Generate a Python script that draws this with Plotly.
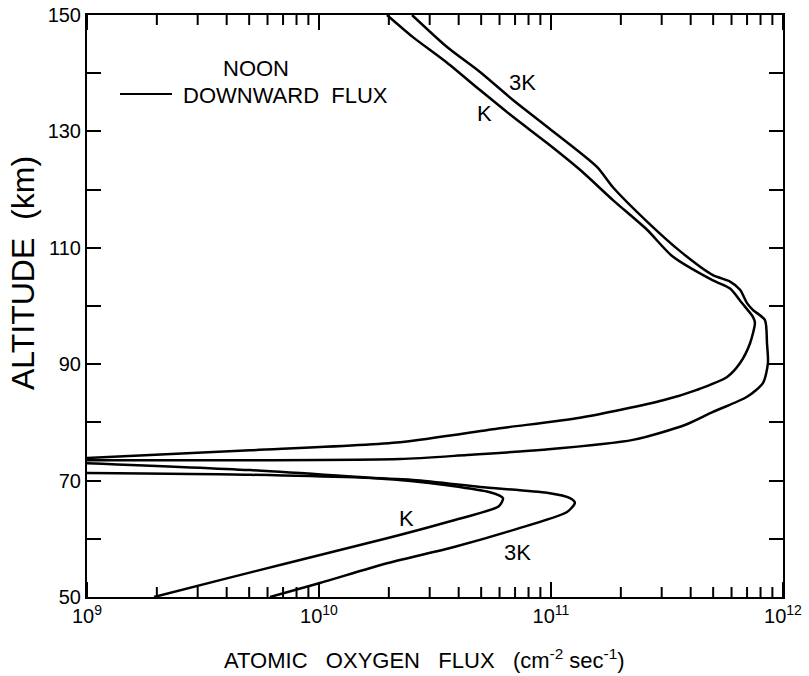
import math
import plotly.graph_objects as go

# ---- data: log10(flux [cm^-2 s^-1]) and altitude [km] ----
k_upper_logflux = [10.293, 10.405, 10.552, 10.694, 10.836, 10.983, 11.125, 11.267, 11.414,
                   11.522, 11.698, 11.772, 11.823, 11.871, 11.879, 11.858, 11.815, 11.759,
                   11.629, 11.483, 11.125, 10.780, 10.349, 9.703, 9.0]
k_upper_alt = [150.0, 146.2, 141.8, 137.1, 132.5, 128.0, 123.4, 118.2, 113.1,
               108.6, 104.4, 103.0, 100.5, 98.1, 97.1, 93.6, 90.2, 87.8,
               85.6, 83.8, 80.8, 79.0, 76.6, 75.2, 73.9]

k_lower_logflux = [9.0, 9.703, 10.405, 10.552, 10.737, 10.793, 10.775, 10.582,
                   10.293, 9.862, 9.573, 9.289]
k_lower_alt = [73.0, 71.8, 69.9, 69.2, 68.0, 67.0, 65.6, 63.2,
               60.1, 55.8, 52.9, 50.0]

k3_upper_logflux = [10.401, 10.552, 10.694, 10.836, 10.983, 11.198, 11.267, 11.414, 11.560,
                    11.698, 11.772, 11.815, 11.845, 11.871, 11.922, 11.931, 11.935, 11.914,
                    11.845, 11.698, 11.580, 11.353, 10.966, 10.638, 10.349, 9.703, 9.0]
k3_upper_alt = [150.0, 144.5, 140.2, 135.4, 130.8, 123.9, 120.4, 114.5, 109.3,
                105.3, 104.2, 102.8, 100.5, 99.3, 97.6, 93.6, 90.2, 86.8,
                84.4, 81.8, 79.6, 77.0, 75.3, 74.4, 73.7, 73.5, 73.5]

k3_lower_logflux = [9.0, 9.703, 10.405, 10.694, 10.983, 11.082, 11.103, 11.069, 10.836,
                    10.582, 10.293, 10.004, 9.789]
k3_lower_alt = [71.3, 71.0, 70.1, 68.9, 67.9, 67.0, 66.2, 64.6, 61.5,
                58.6, 55.8, 52.4, 50.0]

# x axis is drawn on log10(flux): decades at 9..12, minor ticks at log10(2..9 x 10^n)
x_tickvals = [9, 10, 11, 12]
x_ticktext = ["10<sup>9</sup>", "10<sup>10</sup>", "10<sup>11</sup>", "10<sup>12</sup>"]
x_minor_tickvals = [e + math.log10(m) for e in (9, 10, 11) for m in range(2, 10)]
y_tickvals = [50, 70, 90, 110, 130, 150]
Y_MIN, Y_MAX = 50, 150

FONT = "Liberation Sans, Arial, sans-serif"

W, H = 809, 676
L, R, T, B = 87, 26, 15, 79
pw, ph = W - L - R, H - T - B

fig = go.Figure()
for xs, ys in [(k_upper_logflux, k_upper_alt), (k_lower_logflux, k_lower_alt),
               (k3_upper_logflux, k3_upper_alt), (k3_lower_logflux, k3_lower_alt)]:
    fig.add_trace(go.Scatter(x=xs, y=ys, mode="lines",
                             line=dict(color="black", width=2.5, shape="spline", smoothing=0.7),
                             showlegend=False, hoverinfo="skip"))

# x tick marks on the bottom and top frame (inside), as a line trace on the axes' scales
km_per_px = (Y_MAX - Y_MIN) / ph
tick_x, tick_y = [], []
for vals, ln in [(x_tickvals, 15), (x_minor_tickvals, 10)]:
    d = ln * km_per_px
    for v in vals:
        tick_x += [v, v, None, v, v, None]
        tick_y += [Y_MIN, Y_MIN + d, None, Y_MAX, Y_MAX - d, None]
fig.add_trace(go.Scatter(x=tick_x, y=tick_y, mode="lines", connectgaps=False,
                         line=dict(color="black", width=2),
                         showlegend=False, hoverinfo="skip"))

fig.update_layout(
    width=W, height=H,
    margin=dict(l=L, r=R, t=T, b=B, autoexpand=False),
    paper_bgcolor="white", plot_bgcolor="white",
    font=dict(family=FONT, color="black", size=19),
    showlegend=False,
    xaxis=dict(
        range=[9, 12], automargin=False,
        tickmode="array", tickvals=x_tickvals, ticktext=x_ticktext,
        ticks="inside", ticklen=15, tickwidth=2, tickcolor="black",
        showline=True, linecolor="black", linewidth=2, mirror=True,
        showgrid=False, zeroline=False,
        tickfont=dict(size=20, family=FONT),
    ),
    yaxis=dict(
        range=[Y_MIN, Y_MAX], automargin=False,
        tickmode="array", tickvals=y_tickvals,
        ticks="inside", ticklen=14, tickwidth=1.5, tickcolor="black",
        minor=dict(ticks="inside", ticklen=14, tickwidth=1.5, tickcolor="black", dtick=10, showgrid=False),
        showline=True, linecolor="black", linewidth=2, mirror="allticks",
        showgrid=False, zeroline=False,
        tickfont=dict(size=20, family=FONT),
    ),
)

def px(x):
    return (x - L) / pw
def py(y):
    return (H - B - y) / ph

annos = [
    dict(text="NOON", x=px(256), y=py(68), size=22),
    dict(text="DOWNWARD&nbsp;&nbsp;FLUX", x=px(285), y=py(96), size=22),
    dict(text="3K", x=px(522), y=py(82), size=22),
    dict(text="K", x=px(484), y=py(114), size=22),
    dict(text="K", x=px(406), y=py(518), size=22),
    dict(text="3K", x=px(517), y=py(552), size=22),
    dict(text="ATOMIC&nbsp;&nbsp;&nbsp;OXYGEN&nbsp;&nbsp;&nbsp;FLUX&nbsp;&nbsp;&nbsp;(cm<sup>-2</sup> sec<sup>-1</sup>)",
         x=px(424), y=py(659), size=22),
]
for a in annos:
    s = a.pop("size")
    fig.add_annotation(xref="paper", yref="paper", showarrow=False,
                       xanchor="center", yanchor="middle",
                       font=dict(size=s, family=FONT, color="black"), **a)

fig.add_annotation(xref="paper", yref="paper", showarrow=False, text="ALTITUDE&nbsp;&nbsp;(km)",
                   textangle=-90, x=px(23), y=py(273), xanchor="center", yanchor="middle",
                   font=dict(size=32, family=FONT, color="black"))

# legend sample line
fig.add_shape(type="line", xref="paper", yref="paper",
              x0=px(120), x1=px(172), y0=py(94), y1=py(94),
              line=dict(color="black", width=2))

fig.write_html("out.html")
